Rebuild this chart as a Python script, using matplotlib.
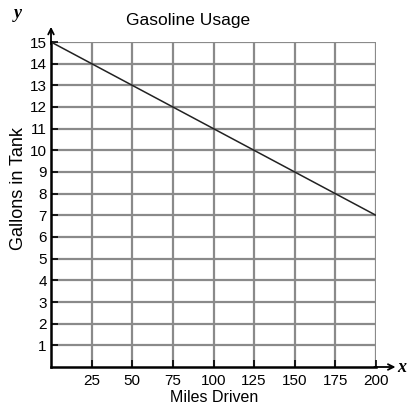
import matplotlib
matplotlib.use("Agg")
import matplotlib.pyplot as plt

miles = [0, 200]
gallons = [15, 7]
x_ticks = [25, 50, 75, 100, 125, 150, 175, 200]
y_ticks = list(range(1, 16))

plt.rcParams['font.family'] = ['Liberation Sans', 'DejaVu Sans']

fig = plt.figure(figsize=(4.2, 4.13), dpi=100)
ax = fig.add_axes([51/420, 1-367/413, 325/420, 325/413])
ax.set_xlim(0, 200)
ax.set_ylim(0, 15)

for xv in x_ticks:
    ax.axvline(xv, color='#8a8a8a', lw=1.6, zorder=1)
for yv in y_ticks:
    ax.axhline(yv, color='#8a8a8a', lw=1.6, zorder=1)

ax.plot(miles, gallons, color='#222222', lw=1.1, zorder=3)

for s in ['top', 'right']:
    ax.spines[s].set_visible(False)
ax.spines['left'].set_linewidth(1.8)
ax.spines['bottom'].set_linewidth(1.8)

ax.set_xticks(x_ticks)
ax.set_yticks(y_ticks)
ax.tick_params(axis='x', direction='in', length=5, width=1.2, labelsize=11, pad=5)
ax.tick_params(axis='y', direction='in', length=5, width=1.2, labelsize=11, pad=3)

# axis arrows
ax.annotate('', xy=(0, 15.7), xytext=(0, 14.9), annotation_clip=False,
            arrowprops=dict(arrowstyle='->', lw=1.3, color='black', shrinkA=0, shrinkB=0))
ax.annotate('', xy=(212, 0), xytext=(199, 0), annotation_clip=False,
            arrowprops=dict(arrowstyle='->', lw=1.3, color='black', shrinkA=0, shrinkB=0))

fig.text(188/420, 1-20/413, 'Gasoline Usage', ha='center', va='center', fontsize=12.5)
fig.text(214/420, 1-398/413, 'Miles Driven', ha='center', va='center', fontsize=11.5)
fig.text(19/420, 1-188/413, 'Gallons in Tank', ha='center', va='center', rotation=90, fontsize=13)
fig.text(18/420, 1-13/413, 'y', ha='center', va='center', fontsize=13, style='italic',
         weight='bold', family='Liberation Serif')
fig.text(402/420, 1-367/413, 'x', ha='center', va='center', fontsize=13, style='italic',
         weight='bold', family='Liberation Serif')

fig.savefig('out.png', dpi=100, facecolor='white')
